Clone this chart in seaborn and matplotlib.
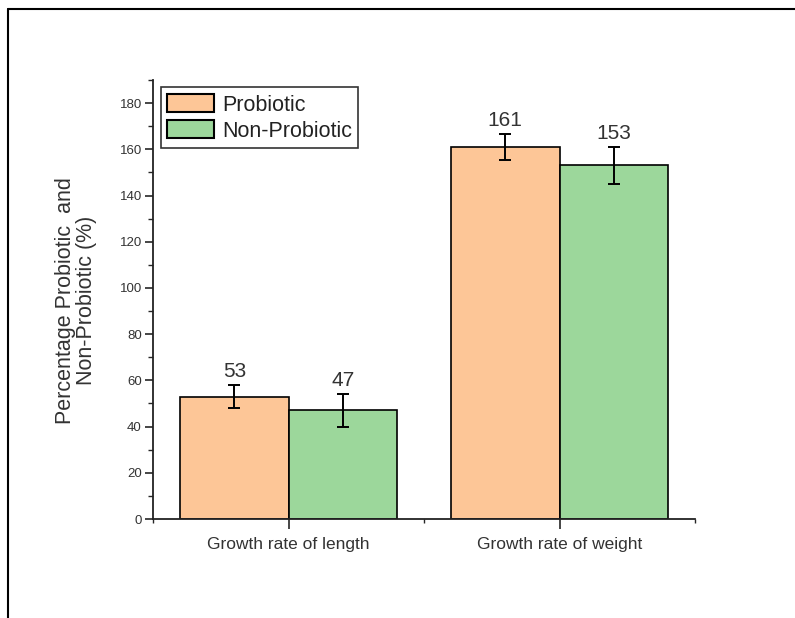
import matplotlib
matplotlib.use("Agg")
import matplotlib.pyplot as plt
from matplotlib.lines import Line2D
from matplotlib.ticker import MultipleLocator, FixedLocator
import seaborn as sns
import pandas as pd

# Data
categories = ["Growth rate of length", "Growth rate of weight"]
groups = ["Probiotic", "Non-Probiotic"]
probiotic = [53, 161]
non_probiotic = [47, 153]
probiotic_err = [5, 5.5]
non_probiotic_err = [7, 8]

colors = {"Probiotic": "#FDC697", "Non-Probiotic": "#9CD79B"}

df = pd.DataFrame({
    "category": categories * 2,
    "group": [groups[0]] * 2 + [groups[1]] * 2,
    "value": probiotic + non_probiotic,
    "err": probiotic_err + non_probiotic_err,
})

sns.set_style("ticks")
plt.rcParams["font.family"] = ["Liberation Sans", "DejaVu Sans"]

fig = plt.figure(figsize=(7.95, 6.18), dpi=100)
ax = fig.add_axes([153 / 795, 1 - 519 / 618, 542 / 795, 439 / 618])

sns.barplot(data=df, x="category", y="value", hue="group", hue_order=groups,
            palette=colors, edgecolor="black", linewidth=1.2, errorbar=None,
            width=0.8, gap=0, saturation=1, ax=ax)

# Error bars and value labels on top of each bar
for grp, container in zip(groups, ax.containers):
    sub = df[df["group"] == grp].set_index("category").loc[categories]
    for patch, (val, err) in zip(container.patches, zip(sub["value"], sub["err"])):
        xc = patch.get_x() + patch.get_width() / 2
        ax.errorbar(xc, val, yerr=err, fmt="none", ecolor="black",
                    elinewidth=1.4, capsize=4, capthick=1.4, zorder=5)
        ax.annotate(f"{val:g}", (xc, val + err), xytext=(0, 3),
                    textcoords="offset points", ha="center", va="bottom",
                    fontsize=15, color="#333333")

ax.set_xlim(-0.5, 1.5)
ax.set_ylim(0, 190)
ax.yaxis.set_major_locator(FixedLocator([0, 20, 40, 60, 80, 100, 120, 140, 160, 180]))
ax.yaxis.set_minor_locator(MultipleLocator(10))
ax.xaxis.set_minor_locator(FixedLocator([-0.5, 0.5, 1.5]))

for s in ["top", "right"]:
    ax.spines[s].set_visible(False)
for s in ["left", "bottom"]:
    ax.spines[s].set_linewidth(1.3)
    ax.spines[s].set_color("#222222")

ax.tick_params(axis="y", which="major", direction="out", length=6, width=1.2,
               labelsize=9.5, labelcolor="#333333", pad=2)
ax.tick_params(axis="y", which="minor", direction="out", length=3.5, width=1.0)
ax.tick_params(axis="x", which="major", direction="out", length=7, width=1.2,
               labelsize=12.5, labelcolor="#333333", pad=6)
ax.tick_params(axis="x", which="minor", direction="out", length=3, width=1.0)

ax.set_xlabel("")
ax.set_ylabel("Percentage Probiotic  and\nNon-Probiotic (%)", fontsize=15.5,
              color="#333333", linespacing=1.0)
ax.yaxis.set_label_coords(-0.103, 0.497)

leg = ax.legend(loc="upper left", bbox_to_anchor=(0.014, 0.983), borderaxespad=0,
                fontsize=15.5, frameon=True, fancybox=False, edgecolor="black",
                handlelength=2.2, handleheight=0.95, labelspacing=0.2,
                handletextpad=0.35, borderpad=0.3)
leg.get_frame().set_linewidth(1.2)
for h in leg.legend_handles:
    h.set_edgecolor("black")
    h.set_linewidth(1.5)
for t in leg.get_texts():
    t.set_color("#222222")

# Page frame lines (top and left)
fig.add_artist(Line2D([8 / 795, 1.0], [1 - 9 / 618, 1 - 9 / 618],
                      transform=fig.transFigure, color="black", lw=1.5))
fig.add_artist(Line2D([8 / 795, 8 / 795], [0.0, 1 - 9 / 618],
                      transform=fig.transFigure, color="black", lw=1.5))

fig.savefig("out.png", dpi=100)
